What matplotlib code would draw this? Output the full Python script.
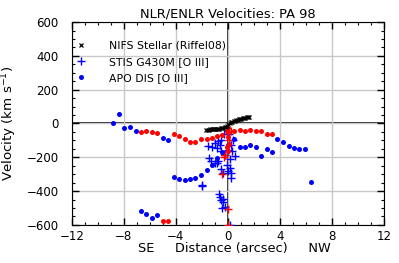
import numpy as np
import matplotlib
matplotlib.use("Agg")
import matplotlib.pyplot as plt
from matplotlib.ticker import MultipleLocator

# NIFS stellar (Riffel08)
nifs_x = [-1.65, -1.55, -1.45, -1.35, -1.25, -1.15, -1.05, -0.95, -0.85, -0.75, -0.65, -0.55,
          -0.45, -0.35, -0.25, -0.15, -0.05, 0.05, 0.15, 0.25, 0.35, 0.45, 0.55, 0.65, 0.75,
          0.85, 0.95, 1.05, 1.15, 1.25, 1.35, 1.45, 1.55, 1.65]
nifs_v = [-38, -37, -36, -35, -35, -34, -33, -32, -31, -30, -30, -28, -27, -25, -22, -18, -12,
          -4, 4, 8, 11, 14, 17, 20, 22, 25, 27, 29, 31, 33, 35, 37, 39, 41]

# STIS G430M [O III], blue component
stis_b_x = [-1.5, -1.25, -1.0, -0.74, -0.49, -0.87, -0.49, -0.23, 0.02, 0.28, 0.41, 0.54,
            -1.44, -1.31, -1.0, -0.87, -0.74, -0.49, -0.36, -0.1, 0.15, 0.0, 0.21, 0.28,
            -2.02, -1.98, -0.67, -0.62, -0.56, -0.36, -0.36, -0.44, -0.23, 0.15, 0.1, -0.3,
            0.3, -0.6, 0.2]
stis_b_v = [-135, -137, -115, -105, -96, -145, -164, -184, -155, -125, -96, -194,
            -206, -222, -235, -235, -224, -271, -294, -243, -265, -282, -320, -294,
            -363, -370, -417, -436, -452, -444, -462, -498, -492, -600, -60, -60,
            -160, -130, -210]

# STIS G430M [O III], red component
stis_r_x = [-0.44, -0.02, -0.18, 0.28, 0.0, -0.3, 0.1]
stis_r_v = [-298, -507, -186, -46, -598, -200, -100]

# APO DIS [O III], blue component
apo_b_x = [-8.82, -8.36, -7.97, -7.54, -7.10, -6.69, -6.26, -5.85, -5.44, -5.00, -4.59, -4.15,
           -3.74, -3.33, -2.90, -2.49, -2.05, -1.64, -1.23, -0.82, -0.41, 0.0, 0.46, 0.92,
           1.31, 1.74, 2.15, 2.56, 3.00, 3.41, 3.82, 4.26, 4.69, 5.10, 5.51, 5.92, 6.36]
apo_b_v = [0, 56, -25, -19, -44, -519, -533, -560, -541, -84, -96, -314,
           -326, -336, -330, -324, -302, -277, -243, -205, -170, -130, -93, -137,
           -137, -127, -137, -192, -153, -166, -94, -109, -135, -145, -149, -151, -346]

# APO DIS [O III], red component
apo_r_x = [-6.69, -6.26, -5.85, -5.44, -5.00, -4.59, -4.15, -3.74, -3.33, -2.90, -2.49, -2.05,
           -1.64, -1.23, -0.82, -0.41, 0.0, 0.46, 0.92, 1.31, 1.74, 2.15, 2.56, 3.00, 3.41,
           -0.1, 0.0, 0.05, 0.1, -0.1, 0.0]
apo_r_v = [-48, -42, -50, -54, -580, -580, -62, -72, -92, -111, -107, -94,
           -92, -84, -74, -66, -50, -42, -38, -42, -40, -42, -44, -60, -60,
           -46, -27, -80, -120, -140, -165]

fig = plt.figure(figsize=(3.99, 2.63), dpi=100)
ax = fig.add_axes([0.180, 0.145, 0.782, 0.771])

ax.grid(True, color="#c8c8c8", linewidth=1.0, zorder=0)
ax.axhline(0, color="k", linewidth=1.2, zorder=1)
ax.axvline(0, color="k", linewidth=1.2, zorder=1)

ax.plot(nifs_x, nifs_v, "kx", markersize=3, mew=0.9, linestyle="none",
        label="NIFS Stellar (Riffel08)", zorder=4)
ax.plot(stis_b_x, stis_b_v, "b+", markersize=6, mew=1.0, linestyle="none",
        label="STIS G430M [O III]", zorder=3)
ax.plot(stis_r_x, stis_r_v, "r+", markersize=6, mew=1.0, linestyle="none", zorder=3)
ax.plot(apo_b_x, apo_b_v, "bo", markersize=3.6, mew=0, linestyle="none",
        label="APO DIS [O III]", zorder=3)
ax.plot(apo_r_x, apo_r_v, "ro", markersize=3.6, mew=0, linestyle="none", zorder=3)

ax.set_xlim(-12, 12)
ax.set_ylim(-600, 600)
ax.xaxis.set_major_locator(MultipleLocator(4))
ax.xaxis.set_minor_locator(MultipleLocator(1))
ax.yaxis.set_major_locator(MultipleLocator(200))
ax.yaxis.set_minor_locator(MultipleLocator(50))
ax.tick_params(which="both", direction="in", top=True, right=True, labelsize=8.5)
ax.tick_params(which="major", length=5, width=1)
ax.tick_params(which="minor", length=2.5, width=0.8)
ax.tick_params(axis="y", which="major", pad=9.5)

ax.set_title("NLR/ENLR Velocities: PA 98", fontsize=9.4, pad=3)
ax.set_xlabel("SE     Distance (arcsec)     NW", fontsize=9.3, labelpad=3)
ax.xaxis.set_label_coords(0.521, -0.085)
ax.set_ylabel("Velocity (km s$^{-1}$)", fontsize=9.6)
ax.yaxis.set_label_coords(-0.168, 0.5)

ax.legend(loc="upper left", frameon=False, fontsize=7.8, handlelength=0.9,
          handletextpad=2.1, borderaxespad=0.3, labelspacing=0.55,
          bbox_to_anchor=(-0.01, 0.945))

fig.savefig("out.png", dpi=100)
